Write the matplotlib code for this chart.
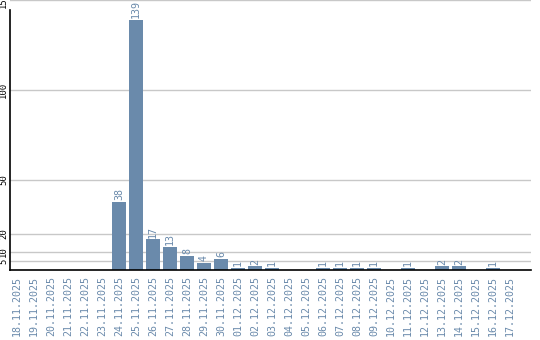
import matplotlib
matplotlib.use("Agg")
import matplotlib.pyplot as plt
import numpy

dates = ["18.11.2025", "19.11.2025", "20.11.2025", "21.11.2025", "22.11.2025",
         "23.11.2025", "24.11.2025", "25.11.2025", "26.11.2025", "27.11.2025",
         "28.11.2025", "29.11.2025", "30.11.2025", "01.12.2025", "02.12.2025",
         "03.12.2025", "04.12.2025", "05.12.2025", "06.12.2025", "07.12.2025",
         "08.12.2025", "09.12.2025", "10.12.2025", "11.12.2025", "12.12.2025",
         "13.12.2025", "14.12.2025", "15.12.2025", "16.12.2025", "17.12.2025"]
counts = [0, 0, 0, 0, 0, 0, 38, 139, 17, 13, 8, 4, 6, 1, 2, 1, 0, 0,
          1, 1, 1, 1, 0, 1, 0, 2, 2, 0, 1, 0]
y_ticks = [5, 10, 20, 50, 100, 150]

bar_color = "#6a8aab"
mono = "DejaVu Sans Mono"

fig = plt.figure(figsize=(5.4, 3.4), dpi=100)
ax = fig.add_axes([10 / 540, 70 / 340, 521 / 540, 270 / 340])

x = numpy.arange(len(dates))
width = 14 / 17
ax.bar(x, counts, width=width, align="edge", color=bar_color, zorder=2)

for i, c in enumerate(counts):
    if c > 0:
        ax.text(i + width / 2, c + 1.0, str(c), rotation=90, ha="center", va="bottom",
                color=bar_color, fontsize=7.2, family=mono)

ax.set_xlim(0, 521 / 17)
ax.set_ylim(0, 150)

ax.set_xticks(x + width / 2)
ax.set_xticklabels(dates, rotation=90, fontsize=7.2, family=mono, color=bar_color)
ax.set_yticks(y_ticks)
# top label (150) is cut by the figure edge, as in the original
ax.set_yticklabels([str(t) for t in y_ticks], rotation=90, va="center",
                   fontsize=6.4, family=mono)
ax.tick_params(axis="x", length=0, pad=4)
ax.tick_params(axis="y", length=0, pad=1.2)

ax.grid(True, axis="y", color="#c8c8c8", linewidth=1)
ax.set_axisbelow(True)
for s in ("top", "right"):
    ax.spines[s].set_visible(False)
ax.spines["left"].set_bounds(0, 260 / 1.8)
ax.spines["left"].set_linewidth(1.2)
ax.spines["bottom"].set_linewidth(1.2)

plt.savefig("out.png", dpi=100)
